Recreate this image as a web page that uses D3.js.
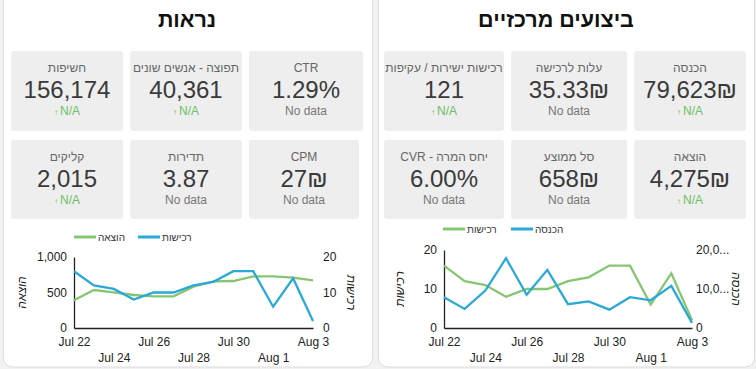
<!DOCTYPE html>
<html>
<head>
<meta charset="utf-8">
<script src="https://cdn.jsdelivr.net/npm/d3@7"></script>
<style>
  body { margin: 0; background: #f2f2f2; }
  svg { display: block; font-family: "Liberation Sans", Arial, sans-serif; }
</style>
</head>
<body>
<svg id="chart" width="756" height="369"></svg>
<script>
// data
var dayLabels = ["2023-07-22","2023-07-23","2023-07-24","2023-07-25","2023-07-26","2023-07-27","2023-07-28",
                 "2023-07-29","2023-07-30","2023-07-31","2023-08-01","2023-08-02","2023-08-03"];
var spend = [390, 535, 502, 465, 446, 446, 582, 657, 662, 728, 728, 709, 671];
var purchases = [16, 12, 11, 8, 10, 10, 12, 13, 16, 16, 6, 14, 2];
var revenue = [7900, 4900, 9600, 17900, 8500, 14900, 6100, 6800, 4700, 7900, 7100, 10800, 1300];

// scorecards, right to left as on the page
var visibilityCards = [
  {label: "CTR", value: "1.29%", sub: "No data"},
  {label: "תפוצה - אנשים שונים", value: "40,361", sub: "N/A"},
  {label: "חשיפות", value: "156,174", sub: "N/A"},
  {label: "CPM", value: "27₪", sub: "No data"},
  {label: "תדירות", value: "3.87", sub: "No data"},
  {label: "קליקים", value: "2,015", sub: "N/A"}
];
var performanceCards = [
  {label: "הכנסה", value: "79,623₪", sub: "N/A"},
  {label: "עלות לרכישה", value: "35.33₪", sub: "No data"},
  {label: "רכישות ישירות / עקיפות", value: "121", sub: "N/A"},
  {label: "הוצאה", value: "4,275₪", sub: "N/A"},
  {label: "סל ממוצע", value: "658₪", sub: "No data"},
  {label: "יחס המרה - CVR", value: "6.00%", sub: "No data"}
];

var GREEN = "#86c672", BLUE = "#2aa9d9";
var parseDay = d3.timeParse("%Y-%m-%d");
var days = dayLabels.map(parseDay);

var svg = d3.select("#chart");

// panels
function panel(x, w, title, cx) {
  svg.append("rect").attr("x", x).attr("y", -8).attr("width", w).attr("height", 375)
    .attr("rx", 9).attr("fill", "#fff").attr("stroke", "#dcdcdc");
  svg.append("text").attr("x", cx).attr("y", 27).attr("text-anchor", "middle")
    .attr("font-size", 21.5).attr("font-weight", "bold").attr("fill", "#111").text(title);
}
panel(3.5, 369, "נראות", 187);
panel(378.5, 376, "ביצועים מרכזיים", 556);

// scorecard boxes
function cards(list, boxes) {
  list.forEach(function (c, i) {
    var b = boxes[i];
    var g = svg.append("g");
    g.append("rect").attr("x", b[0]).attr("y", b[1]).attr("width", b[2] - b[0]).attr("height", b[3] - b[1])
      .attr("rx", 3).attr("fill", "#eeeeee");
    var cx = (b[0] + b[2]) / 2;
    g.append("text").attr("x", cx).attr("y", b[1] + 21).attr("text-anchor", "middle").attr("direction", "rtl")
      .attr("font-size", 12).attr("fill", "#666").text(c.label);
    g.append("text").attr("x", cx).attr("y", b[1] + 47).attr("text-anchor", "middle").attr("direction", "ltr")
      .attr("font-size", 24).attr("fill", "#3a3a3a").text(c.value);
    var s = g.append("text").attr("x", cx).attr("y", b[1] + 64).attr("text-anchor", "middle")
      .attr("direction", "ltr").attr("font-size", 12);
    if (c.sub == "N/A") {
      s.attr("fill", "#6dbf62");
      s.append("tspan").attr("font-size", 8).attr("font-weight", "bold").text("↑  ");
      s.append("tspan").text("N/A");
    } else {
      s.attr("fill", "#777").text(c.sub);
    }
  });
}
cards(visibilityCards, [
  [249, 51, 363, 131], [130, 51, 242, 131], [11, 51, 123, 131],
  [249, 140, 359, 219], [130, 140, 242, 219], [11, 140, 123, 219]
]);
cards(performanceCards, [
  [634, 51, 746, 131], [511, 51, 627, 131], [384, 51, 504, 131],
  [634, 140, 746, 219], [511, 140, 627, 219], [384, 140, 504, 219]
]);

// combo line chart with two y axes
function lineChart(opt) {
  var x = d3.scaleTime().domain(d3.extent(days)).range([opt.x0, opt.x1]);
  var yL = d3.scaleLinear().domain([0, opt.leftMax]).range([opt.y1, opt.y0]);
  var yR = d3.scaleLinear().domain([0, opt.rightMax]).range([opt.y1, opt.y0]);
  var g = svg.append("g");

  // legend
  opt.legend.forEach(function (l) {
    g.append("line").attr("x1", l.x).attr("x2", l.x + 22).attr("y1", opt.legendY).attr("y2", opt.legendY)
      .attr("stroke", l.color).attr("stroke-width", 3);
    g.append("text").attr("x", l.x + 24).attr("y", opt.legendY + 3.5).attr("font-size", 10)
      .attr("fill", "#333").text(l.name);
  });

  var ticks = days.filter(function (d, i) { return i % 2 == 0; });
  var xa = g.append("g").attr("transform", "translate(0," + opt.y1 + ")")
    .call(d3.axisBottom(x).tickValues(ticks).tickSize(0).tickFormat(d3.timeFormat("%b %-d")));
  xa.select(".domain").attr("stroke", "#222").attr("stroke-width", 1.3);
  xa.selectAll("text").attr("font-size", 12).attr("fill", "#222").attr("font-family", null)
    .attr("dy", function (d, i) { return i % 2 ? "2.6em" : "1.25em"; });

  var la = g.append("g").attr("transform", "translate(" + opt.x0 + ",0)")
    .call(d3.axisLeft(yL).ticks(2).tickSize(0).tickPadding(7).tickFormat(d3.format(",")));
  la.select(".domain").attr("stroke", "#222").attr("stroke-width", 1.3);
  la.selectAll("text").attr("font-size", 12).attr("fill", "#222").attr("font-family", null);

  var ra = g.append("g").attr("transform", "translate(" + opt.x1 + ",0)")
    .call(d3.axisRight(yR).ticks(2).tickSize(0).tickPadding(opt.rightPad).tickFormat(opt.rightFormat));
  ra.select(".domain").remove();
  ra.selectAll("text").attr("font-size", 12).attr("fill", "#222").attr("font-family", null);

  var midY = (opt.y0 + opt.y1) / 2;
  g.append("text").attr("transform", "translate(" + opt.titleL + "," + midY + ") rotate(-90)")
    .attr("text-anchor", "middle").attr("dy", "0.35em").attr("font-size", 12).attr("font-style", "italic")
    .attr("fill", "#222").text(opt.leftTitle);
  g.append("text").attr("transform", "translate(" + opt.titleR + "," + midY + ") rotate(90)")
    .attr("text-anchor", "middle").attr("dy", "0.35em").attr("font-size", 12).attr("font-style", "italic")
    .attr("fill", "#222").text(opt.rightTitle);

  var lineL = d3.line().x(function (d, i) { return x(days[i]); }).y(function (d) { return yL(d); });
  var lineR = d3.line().x(function (d, i) { return x(days[i]); }).y(function (d) { return yR(d); });
  g.append("path").datum(opt.leftData).attr("d", lineL).attr("fill", "none")
    .attr("stroke", opt.leftColor).attr("stroke-width", 2.3);
  g.append("path").datum(opt.rightData).attr("d", lineR).attr("fill", "none")
    .attr("stroke", opt.rightColor).attr("stroke-width", 2.3);
}

lineChart({
  x0: 74, x1: 313, y0: 257, y1: 328,
  leftMax: 1000, rightMax: 20, rightPad: 10,
  rightFormat: d3.format(","),
  leftData: spend, rightData: purchases,
  leftColor: GREEN, rightColor: BLUE,
  leftTitle: "הוצאה", rightTitle: "רכישות",
  titleL: 22, titleR: 351,
  legendY: 237,
  legend: [{x: 74, color: GREEN, name: "הוצאה"}, {x: 138, color: BLUE, name: "רכישות"}]
});

lineChart({
  x0: 444, x1: 692, y0: 250, y1: 328,
  leftMax: 20, rightMax: 20000, rightPad: 4,
  rightFormat: function (v) { var s = d3.format(",")(v); return s.length > 4 ? s.slice(0, 4) + "..." : s; },
  leftData: purchases, rightData: revenue,
  leftColor: GREEN, rightColor: BLUE,
  leftTitle: "רכישות", rightTitle: "הכנסה",
  titleL: 400, titleR: 736,
  legendY: 229,
  legend: [{x: 443, color: GREEN, name: "רכישות"}, {x: 511, color: BLUE, name: "הכנסה"}]
});
</script>
</body>
</html>
